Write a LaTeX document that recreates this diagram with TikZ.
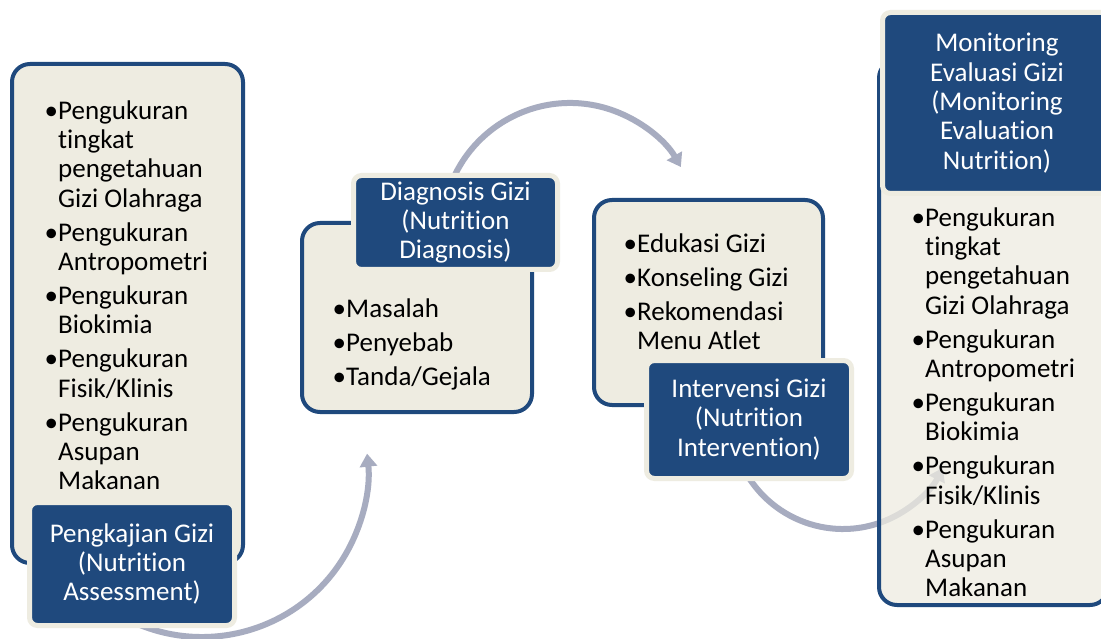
\documentclass[tikz,border=0pt]{standalone}
\usepackage{fontspec}
\setmainfont{Carlito}[Ligatures=NoCommon]
\usetikzlibrary{arrows.meta}
\definecolor{dblue}{RGB}{31,73,125}
\definecolor{cream}{RGB}{238,236,225}
\definecolor{arrowc}{RGB}{167,172,192}
\newcommand{\bu}{\makebox[11pt][l]{\hspace*{-2.5pt}•}}
\newcommand{\hg}{\hspace*{11pt}}
\begin{document}
\begin{tikzpicture}[x=1pt,y=-1pt,
  panel/.style={rectangle, draw=dblue, line width=4pt, fill=cream, rounded corners=18pt, inner sep=0pt},
  title/.style={rectangle, draw=cream, line width=5pt, fill=dblue, text=white, rounded corners=8pt,
    align=center, inner sep=0pt, font=\fontsize{27}{29.3}\selectfont},
  listtext/.style={anchor=north west, inner sep=0pt, align=left, text=black, font=\fontsize{27}{29.3}\selectfont},
  flow/.style={draw=arrowc, line width=6pt, -{Triangle[width=17pt,length=13pt]}}]
\useasboundingbox (0,0) rectangle (1101,639);
\clip (0,0) rectangle (1101,639);
\fill[white] (0,0) rectangle (1101,639);

% connector start points (hidden under the title boxes)
\coordinate (s1) at ([shift={(120:166)}]202,471);
\coordinate (s2) at ([shift={(200:128)}]570,231);
\coordinate (s3) at ([shift={(155:112)}]843,417);

% curved arrows
\draw[flow] (s1) arc[start angle=120, end angle=-6, radius=166];
\draw[flow] (s2) arc[start angle=200, end angle=330, radius=128];
\draw[flow] (s3) arc[start angle=155, end angle=27, radius=112];

% panels
\node[panel, minimum width=231pt, minimum height=499pt] (p1) at (127.5,313.5) {};
\node[panel, minimum width=230pt, minimum height=189pt] (p2) at (417,317.5) {};
\node[panel, minimum width=229pt, minimum height=205pt] (p3) at (708.5,302.5) {};
\node[panel, fill opacity=0.75, minimum width=229pt, minimum height=545pt] (p4) at (993.5,332.5) {};

% lists
\node[listtext] (l1) at (47,98.5) {\strut\bu Pengukuran\\ \hg tingkat\\ \hg pengetahuan\\ \hg Gizi Olahraga\\[4.7pt]
  \bu Pengukuran\\ \hg Antropometri\\[4.7pt]
  \bu Pengukuran\\ \hg Biokimia\\[4.7pt]
  \bu Pengukuran\\ \hg Fisik/Klinis\\[4.7pt]
  \bu Pengukuran\\ \hg Asupan\\ \hg Makanan};
\node[listtext] (l2) at (335,296.5) {\strut\bu Masalah\\[4.7pt] \bu Penyebab\\[4.7pt] \bu Tanda/Gejala};
\node[listtext] (l3) at (626,231.5) {\strut\bu Edukasi Gizi\\[4.7pt] \bu Konseling Gizi\\[4.7pt] \bu Rekomendasi\\ \hg Menu Atlet};
\node[listtext] (l4) at (914,205.5) {\strut\bu Pengukuran\\ \hg tingkat\\ \hg pengetahuan\\ \hg Gizi Olahraga\\[4.7pt]
  \bu Pengukuran\\ \hg Antropometri\\[4.7pt]
  \bu Pengukuran\\ \hg Biokimia\\[4.7pt]
  \bu Pengukuran\\ \hg Fisik/Klinis\\[4.7pt]
  \bu Pengukuran\\ \hg Asupan\\ \hg Makanan};

% title boxes
\node[title, minimum width=205pt, minimum height=123pt] (t1) at (132,564) {Pengkajian Gizi\\(Nutrition\\Assessment)};
\node[title, minimum width=204pt, minimum height=94pt] (t2) at (455.5,222.5) {Diagnosis Gizi\\(Nutrition\\Diagnosis)};
\node[title, minimum width=205pt, minimum height=118pt] (t3) at (749,419.5) {Intervensi Gizi\\(Nutrition\\Intervention)};
\node[title, minimum width=229pt, minimum height=181pt] (t4) at (997,103) {Monitoring\\Evaluasi Gizi\\(Monitoring\\Evaluation\\Nutrition)};
\end{tikzpicture}
\end{document}
